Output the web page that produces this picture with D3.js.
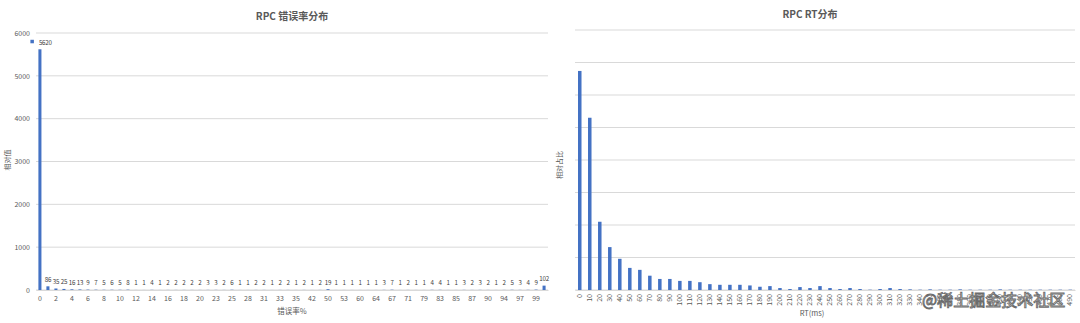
<!DOCTYPE html>
<html>
<head>
<meta charset="utf-8">
<script src="https://cdn.jsdelivr.net/npm/d3@7"></script>
<style>
  body { margin: 0; background: #fff; }
  svg { display: block; font-family: "Noto Sans CJK SC", "Noto Sans", sans-serif; }
  svg text { -webkit-font-smoothing: antialiased; }
</style>
</head>
<body>
<svg id="chart" width="1080" height="323"></svg>
<script>
// left chart: error rate (%) categories and counts
var errCats = ["0","1","2","3","4","5","6","7","8","9","10","11","12","13","14","15","16","17","18","19","20",
  "22","23","24","25","27","28","30","31","32","33","34","35","40","42","45","50","52","53","57","60","62",
  "64","66","67","70","71","75","79","80","83","84","85","86","87","88","90","92","94","96","97","98","99","100"];
var errCounts = [5620,86,35,25,16,13,9,7,5,6,5,8,1,1,4,1,2,2,2,2,2,3,3,2,6,1,1,2,2,1,2,2,1,2,1,2,19,
  1,1,1,1,1,1,3,7,1,2,1,1,4,4,1,1,3,2,3,2,1,2,5,3,4,9,102];
var errTicks = [0,1000,2000,3000,4000,5000,6000];

// right chart: RT (ms) buckets and relative share
var rtCats = d3.range(0, 500, 10).map(String);
var rtShare = [33.7,26.5,10.5,6.6,4.8,3.4,3.1,2.2,1.7,1.7,1.4,1.4,1.2,0.9,0.8,0.8,0.8,0.7,0.5,0.6,
  0.3,0.15,0.45,0.3,0.6,0.3,0.15,0.3,0.15,0.05,0.15,0.3,0.15,0.1,0.05,0.1,0.05,0.05,0.1,0.05,
  0.05,0.05,0.1,0.05,0.05,0.05,0.05,0.05,0.05,0.05];
var rtGrid = [0,5,10,15,20,25,30,35,40];

var svg = d3.select("#chart");
var barColor = "#4472c4", gridColor = "#d9d9d9", textColor = "#595959";

function styleAxisText(sel) {
  sel.attr("font-family", null).attr("font-size", null);
  sel.selectAll("text").attr("fill", textColor).style("font-size", "7px");
}

// ---------- left chart ----------
var x1 = d3.scaleBand().domain(errCats).range([36, 548]).paddingInner(0.62).paddingOuter(0.3);
var y1 = d3.scaleLinear().domain([0, 6000]).range([290, 33]);

var g1 = svg.append("g");
g1.selectAll("line.grid").data(errTicks).enter().append("line")
  .attr("class", "grid")
  .attr("x1", 36).attr("x2", 548)
  .attr("y1", d => y1(d)).attr("y2", d => y1(d))
  .attr("stroke", gridColor).attr("stroke-width", 1);

g1.append("g")
  .attr("transform", "translate(36,0)")
  .call(d3.axisLeft(y1).tickValues(errTicks).tickFormat(d3.format("d")).tickSize(0).tickPadding(6))
  .call(a => a.select(".domain").remove())
  .call(styleAxisText);

g1.append("g")
  .attr("transform", "translate(0,290)")
  .call(d3.axisBottom(x1).tickValues(errCats.filter((d, i) => i % 2 == 0)).tickSize(0).tickPadding(6))
  .call(a => a.select(".domain").attr("stroke", gridColor))
  .call(styleAxisText);

g1.selectAll("rect.bar").data(errCounts).enter().append("rect")
  .attr("class", "bar")
  .attr("x", (d, i) => x1(errCats[i]))
  .attr("y", d => y1(d))
  .attr("width", x1.bandwidth())
  .attr("height", d => y1(0) - y1(d))
  .attr("fill", barColor);

g1.selectAll("text.lbl").data(errCounts).enter().append("text")
  .attr("class", "lbl")
  .attr("x", (d, i) => i == 0 ? x1(errCats[i]) + 0.5 : x1(errCats[i]) + x1.bandwidth() / 2)
  .attr("y", d => y1(d) - 4.5)
  .attr("text-anchor", (d, i) => i == 0 ? "start" : "middle")
  .attr("fill", "#404040")
  .style("font-size", "6.2px")
  .style("letter-spacing", "-0.2px")
  .text(d => d);
// legend key square in front of the big label
g1.append("rect")
  .attr("x", x1(errCats[0]) - 8).attr("y", y1(errCounts[0]) - 9.5)
  .attr("width", 3.5).attr("height", 3.5).attr("fill", barColor);

g1.append("text").attr("x", 292).attr("y", 20).attr("text-anchor", "middle")
  .attr("fill", textColor).style("font-size", "10px").style("font-weight", "600").text("RPC 错误率分布");
g1.append("text").attr("transform", "translate(10,160) rotate(-90)").attr("text-anchor", "middle")
  .attr("fill", textColor).style("font-size", "7px").text("相对值");
g1.append("text").attr("x", 292).attr("y", 314).attr("text-anchor", "middle")
  .attr("fill", textColor).style("font-size", "7.5px").text("错误率%");

// ---------- right chart ----------
var x2 = d3.scaleBand().domain(rtCats).range([575, 1075]).paddingInner(0.65).paddingOuter(0.3);
var y2 = d3.scaleLinear().domain([0, 40]).range([290, 30]);

var g2 = svg.append("g");
g2.selectAll("line.grid").data(rtGrid).enter().append("line")
  .attr("class", "grid")
  .attr("x1", 575).attr("x2", 1075)
  .attr("y1", d => y2(d)).attr("y2", d => y2(d))
  .attr("stroke", gridColor).attr("stroke-width", 1);

g2.append("g")
  .attr("transform", "translate(0,290)")
  .call(d3.axisBottom(x2).tickSize(0).tickPadding(0))
  .call(a => a.select(".domain").attr("stroke", gridColor))
  .call(styleAxisText)
  .selectAll("text")
  .attr("dy", "0.32em").attr("x", -4).attr("y", 0)
  .attr("transform", "rotate(-90)")
  .style("text-anchor", "end");

g2.selectAll("rect.bar").data(rtShare).enter().append("rect")
  .attr("class", "bar")
  .attr("x", (d, i) => x2(rtCats[i]))
  .attr("y", d => y2(d))
  .attr("width", x2.bandwidth())
  .attr("height", d => y2(0) - y2(d))
  .attr("fill", barColor);

g2.append("text").attr("x", 810).attr("y", 18).attr("text-anchor", "middle")
  .attr("fill", textColor).style("font-size", "10px").style("font-weight", "600").text("RPC RT分布");
g2.append("text").attr("transform", "translate(562,165) rotate(-90)").attr("text-anchor", "middle")
  .attr("fill", textColor).style("font-size", "7px").text("相对占比");
g2.append("text").attr("x", 812).attr("y", 316).attr("text-anchor", "middle")
  .attr("fill", textColor).style("font-size", "7.5px").text("RT(ms)");

// watermark
svg.append("text").attr("x", 922).attr("y", 306)
  .attr("fill", "#fff").attr("stroke", "#6b6b6b").attr("stroke-width", 0.9)
  .style("font-size", "16px").text("@稀土掘金技术社区");
</script>
</body>
</html>
